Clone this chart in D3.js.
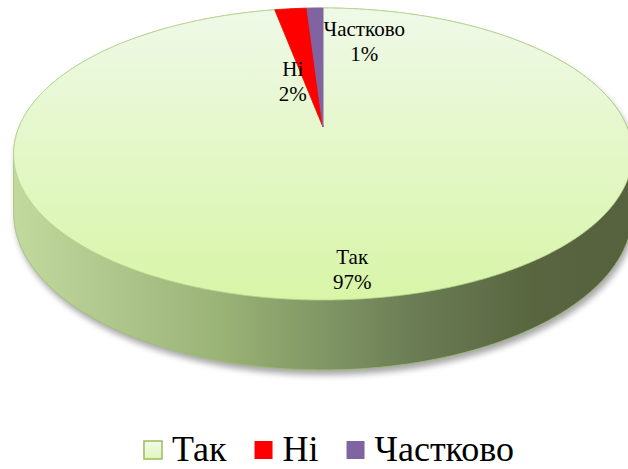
<!DOCTYPE html>
<html>
<head>
<meta charset="utf-8">
<script src="https://cdn.jsdelivr.net/npm/d3@7"></script>
<style>
  body { margin: 0; background: #fff; }
</style>
</head>
<body>
<script>
 // Chart data
 const categories = ['Так', 'Ні', 'Частково'];
 const values = [97, 2, 1];
 const percentLabels = ['97%', '2%', '1%'];
 const colors = ['#dcf4b4', '#ff0000', '#8064a2'];

 const width = 628;
 const height = 469;
 const serif = "'Liberation Serif', 'Times New Roman', serif";

 const svg = d3.select('body')
   .append('svg')
   .attr('width', width)
   .attr('height', height)
   .style('font-family', serif);

 const defs = svg.append('defs');

 // Top face gradient (light at back, greener at front)
 const topGrad = defs.append('linearGradient')
   .attr('id', 'topGrad')
   .attr('gradientUnits', 'userSpaceOnUse')
   .attr('x1', 0).attr('y1', 8).attr('x2', 0).attr('y2', 300);
 topGrad.append('stop').attr('offset', '0%').attr('stop-color', '#eff9e8');
 topGrad.append('stop').attr('offset', '100%').attr('stop-color', '#d8f5a7');

 // Side wall gradient (light left, dark right)
 const sideGrad = defs.append('linearGradient')
   .attr('id', 'sideGrad')
   .attr('gradientUnits', 'userSpaceOnUse')
   .attr('x1', 12).attr('y1', 0).attr('x2', 630).attr('y2', 0);
 sideGrad.append('stop').attr('offset', '0%').attr('stop-color', '#c3da9f');
 sideGrad.append('stop').attr('offset', '35%').attr('stop-color', '#98b175');
 sideGrad.append('stop').attr('offset', '65%').attr('stop-color', '#6b7d55');
 sideGrad.append('stop').attr('offset', '85%').attr('stop-color', '#58653f');
 sideGrad.append('stop').attr('offset', '100%').attr('stop-color', '#56623e');

 // Legend swatch gradient
 const legGrad = defs.append('linearGradient')
   .attr('id', 'legGrad')
   .attr('x1', 0).attr('y1', 0).attr('x2', 0).attr('y2', 1);
 legGrad.append('stop').attr('offset', '0%').attr('stop-color', '#f2fbea');
 legGrad.append('stop').attr('offset', '100%').attr('stop-color', '#e0f6bd');

 const shadow = defs.append('filter')
   .attr('id', 'shadow')
   .attr('x', '-10%').attr('y', '-10%').attr('width', '120%').attr('height', '130%');
 shadow.append('feGaussianBlur').attr('stdDeviation', 3);

 // Perspective projection of the pie disc
 const cx = 323, cy = 127;
 const rx = 304, ry = 141;
 const e = 0.185;      // perspective strength
 const depth = 57;     // wall height

 function proj(phi, r, h) {
   const u = r * Math.sin(phi);
   const v = -r * Math.cos(phi);
   const w = 1 / (1 - e * v);
   return [cx + rx * u * w, cy + (ry * v + h * depth) * w];
 }

 const pie = d3.pie().sort(null).value(d => d);
 const arcs = pie(values);

 // Side wall: hull of top rim and bottom rim
 const rimPts = [];
 for (let i = 0; i < 720; i++) {
   const a = i / 720 * 2 * Math.PI;
   rimPts.push(proj(a, 1, 0));
   rimPts.push(proj(a, 1, 1));
 }
 const hull = d3.polygonHull(rimPts);
 const line = d3.line().curve(d3.curveLinearClosed);

 svg.append('path')
   .attr('d', line(hull))
   .attr('transform', 'translate(2,5)')
   .attr('fill', '#000')
   .attr('opacity', 0.35)
   .attr('filter', 'url(#shadow)');

 svg.append('path')
   .attr('d', line(hull))
   .attr('fill', 'url(#sideGrad)')
   .attr('stroke', '#9fbf6f')
   .attr('stroke-width', 0.8);

 // Top face slices
 function slicePath(d) {
   const pts = [[cx, cy]];
   const n = Math.max(4, Math.ceil((d.endAngle - d.startAngle) * 120));
   for (let i = 0; i <= n; i++) {
     pts.push(proj(d.startAngle + (d.endAngle - d.startAngle) * i / n, 1, 0));
   }
   return line(pts);
 }

 svg.append('g')
   .selectAll('path')
   .data(arcs)
   .enter()
   .append('path')
   .attr('d', slicePath)
   .attr('fill', (d, i) => i === 0 ? 'url(#topGrad)' : colors[i])
   .attr('stroke', (d, i) => i === 0 ? '#b5d58a' : colors[i])
   .attr('stroke-width', 0.8)
   .attr('stroke-linejoin', 'round');

 // Data labels: radial position on disc plus horizontal nudge
 const labelRadius = [0.86, 0.34, 0.68];
 const labelNudge = [0, -18, 47];

 svg.append('g')
   .selectAll('text')
   .data(arcs)
   .enter()
   .append('text')
   .attr('text-anchor', 'middle')
   .attr('font-size', 21)
   .attr('fill', '#000')
   .each(function(d, i) {
     const mid = (d.startAngle + d.endAngle) / 2;
     const p = proj(mid, labelRadius[i], 0);
     const t = d3.select(this);
     t.append('tspan').attr('x', p[0] + labelNudge[i]).attr('y', p[1] - 6).text(categories[i]);
     t.append('tspan').attr('x', p[0] + labelNudge[i]).attr('y', p[1] + 19).text(percentLabels[i]);
   });

 // Legend
 const legend = svg.append('g');
 const items = legend.selectAll('g')
   .data(categories)
   .enter()
   .append('g');

 items.append('rect')
   .attr('y', 1)
   .attr('width', 18).attr('height', 18)
   .attr('fill', (d, i) => i === 0 ? 'url(#legGrad)' : colors[i])
   .attr('stroke', (d, i) => i === 0 ? '#9bbb59' : 'none')
   .attr('stroke-width', 1.5);

 items.append('text')
   .attr('x', 28)
   .attr('y', 21)
   .attr('font-size', 36)
   .attr('fill', '#000')
   .text(d => d);

 let xPos = 0;
 items.each(function() {
   const g = d3.select(this);
   g.attr('transform', `translate(${xPos},0)`);
   const tw = g.select('text').node().getComputedTextLength();
   xPos += 28 + tw + 28;
 });
 const total = xPos - 28;
 legend.attr('transform', `translate(${329 - total / 2},440)`);
</script>
</body>
</html>
